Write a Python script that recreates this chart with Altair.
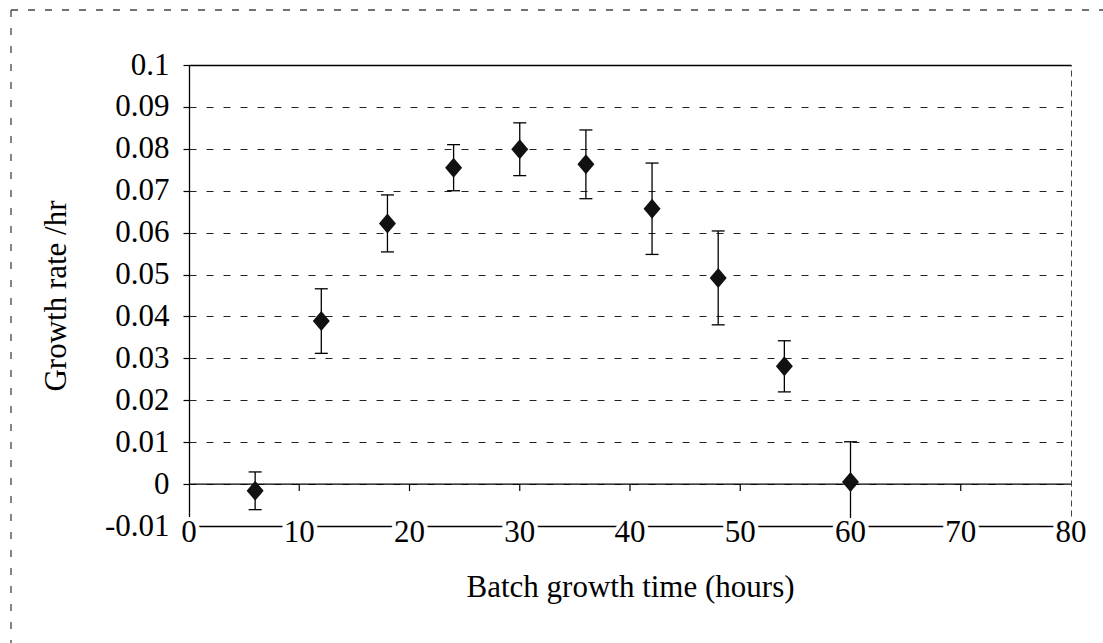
import altair as alt
import pandas as pd

# ---- data ----
time_h = [6, 12, 18, 24, 30, 36, 42, 48, 54, 60]
growth_rate = [-0.0016, 0.0389, 0.0622, 0.0755, 0.0799, 0.0763, 0.0657, 0.0492, 0.0281, 0.0005]
rate_err = [0.0045, 0.0077, 0.0068, 0.0055, 0.0063, 0.0082, 0.0109, 0.0112, 0.0061, 0.0096]

x_ticks = [0, 10, 20, 30, 40, 50, 60, 70, 80]
zero_line_ticks = [10, 20, 30, 40, 50, 60, 70]
y_ticks = [-0.01, 0, 0.01, 0.02, 0.03, 0.04, 0.05, 0.06, 0.07, 0.08, 0.09, 0.1]
x_domain = [0, 80]
y_domain = [-0.01, 0.1]

x_title = "Batch growth time (hours)"
y_title = "Growth rate /hr"

FONT = "Liberation Serif"
FS = 31

df = pd.DataFrame({"time": time_h, "rate": growth_rate, "err": rate_err})
df["lo"] = df["rate"] - df["err"]
df["hi"] = df["rate"] + df["err"]
xt = pd.DataFrame({"tick": x_ticks})
zt = pd.DataFrame({"tick": zero_line_ticks})
one = pd.DataFrame({"a": [0]})

xs = alt.Scale(domain=x_domain, nice=False, zero=False)
ys = alt.Scale(domain=y_domain, nice=False, zero=False)

# error bars (carries the left y axis with grid and the bottom frame / x title)
err_rules = alt.Chart(df).mark_rule(color="black", strokeWidth=1.3).encode(
    x=alt.X("time:Q", scale=xs, axis=alt.Axis(
        orient="bottom", title=x_title, labels=False, ticks=False, grid=False,
        domain=True, domainColor="black", domainWidth=1.3,
        titleFont=FONT, titleFontSize=FS, titleFontWeight="normal",
        titleColor="black", titlePadding=46)),
    y=alt.Y("lo:Q", scale=ys, axis=alt.Axis(
        orient="left", title=y_title, values=y_ticks,
        labelExpr="replace(format(datum.value, '.2~f'), '\u2212', '-')",
        labelFont=FONT, labelFontSize=FS, labelColor="black", labelPadding=14,
        labelOverlap=False,
        ticks=True, tickSize=6, tickColor="black", tickWidth=1.2,
        grid=True, gridColor="#222", gridDash=[7, 10], gridWidth=1.1,
        domain=True, domainColor="black", domainWidth=1.3,
        titleFont=FONT, titleFontSize=FS, titleFontWeight="normal",
        titleColor="black", titlePadding=32)),
    y2="hi:Q",
)

caps_lo = alt.Chart(df).mark_tick(orient="horizontal", size=13, thickness=1.3,
                                  color="black", opacity=1).encode(
    x=alt.X("time:Q", scale=xs, axis=None),
    y=alt.Y("lo:Q", scale=ys, axis=None),
)
caps_hi = alt.Chart(df).mark_tick(orient="horizontal", size=13, thickness=1.3,
                                  color="black", opacity=1).encode(
    x=alt.X("time:Q", scale=xs, axis=None),
    y=alt.Y("hi:Q", scale=ys, axis=None),
)

zero_rule = alt.Chart(one).mark_rule(color="black", strokeWidth=1.3).encode(
    y=alt.YDatum(0, scale=ys, axis=None),
)

zero_ticks = alt.Chart(zt).mark_tick(orient="vertical", size=7, thickness=1.2,
                                     yOffset=3.5, color="black", opacity=1).encode(
    x=alt.X("tick:Q", scale=xs, axis=None),
    y=alt.YDatum(0, scale=ys, axis=None),
)

# diamond markers (carry the top frame and dashed right frame)
points = alt.Chart(df).mark_point(
    shape="M-0.85,0L0,-1L0.85,0L0,1Z", filled=True, size=400,
    color="#111", opacity=1, strokeWidth=0,
).encode(
    x=alt.X("time:Q", scale=xs, axis=alt.Axis(
        orient="top", title=None, labels=False, ticks=False, grid=False,
        domainColor="black", domainWidth=1.3)),
    y=alt.Y("rate:Q", scale=ys, axis=alt.Axis(
        orient="right", title=None, labels=False, ticks=False, grid=False,
        domainColor="#444", domainDash=[6, 4], domainWidth=1)),
)

# x tick labels sitting on the bottom frame line, with a white halo
label_halo = alt.Chart(xt).mark_text(
    font=FONT, fontSize=FS, baseline="alphabetic", align="center", dy=16,
    color="white", stroke="white", strokeWidth=8,
).encode(
    x=alt.X("tick:Q", scale=xs, axis=None),
    y=alt.YDatum(y_domain[0], scale=ys, axis=None),
    text=alt.Text("tick:Q"),
)
labels = alt.Chart(xt).mark_text(
    font=FONT, fontSize=FS, baseline="alphabetic", align="center", dy=16,
    color="black",
).encode(
    x=alt.X("tick:Q", scale=xs, axis=None),
    y=alt.YDatum(y_domain[0], scale=ys, axis=None),
    text=alt.Text("tick:Q"),
)

# dashed outer frame (top and left) of the figure box
frame_top = alt.Chart(one).mark_rule(color="#444", strokeWidth=1.3, strokeDash=[7, 10]).encode(
    x=alt.value(-178), x2=alt.value(914), y=alt.value(-55),
)
frame_left = alt.Chart(one).mark_rule(color="#444", strokeWidth=1.3, strokeDash=[7, 11]).encode(
    x=alt.value(-178), y=alt.value(-55), y2=alt.value(578),
)

chart = alt.layer(
    err_rules, caps_lo, caps_hi, zero_rule, zero_ticks, points,
    label_halo, labels, frame_top, frame_left,
).resolve_axis(
    x="independent", y="independent"
).properties(
    width=882,
    height=461,
    autosize=alt.AutoSizeParams(type="none"),
    padding={"left": 189, "top": 65, "right": 32, "bottom": 117},
    background="white",
).configure_view(
    strokeWidth=0
)

chart.save("out.html", embed_options={"renderer": "svg", "actions": False})
